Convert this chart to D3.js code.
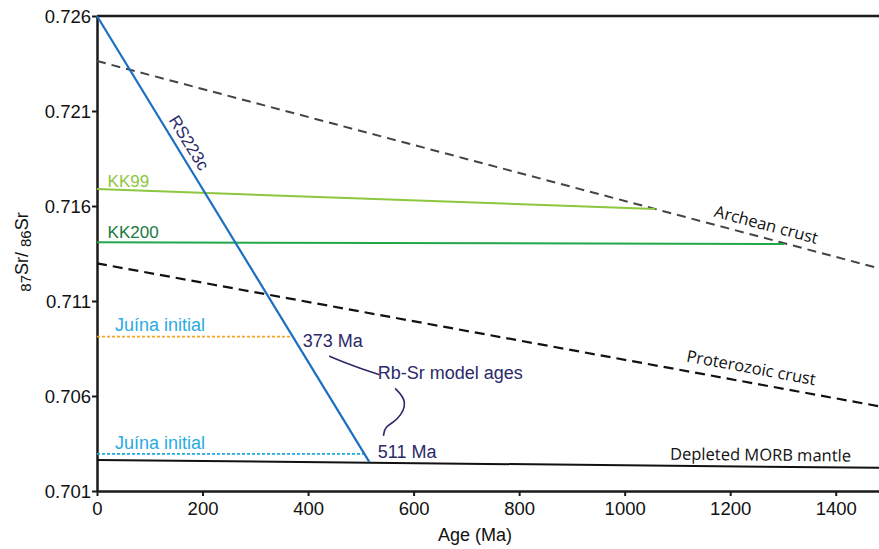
<!DOCTYPE html>
<html>
<head>
<meta charset="utf-8">
<script src="https://cdn.jsdelivr.net/npm/d3@7"></script>
<style>
  body { margin: 0; background: #fff; }
  svg { display: block; }
  .tick text { font-family: "Liberation Sans", Arial, sans-serif; font-size: 18.5px; fill: #111; }
  .lbl { font-family: "Liberation Sans", Arial, sans-serif; }
  .crust { font-family: "Open Sans", sans-serif; fill: #111; }
</style>
</head>
<body>
<div id="chart"></div>
<script>
var svgWidth = 879;
var svgHeight = 549;

var margin = { top: 16, right: 0, bottom: 58, left: 97 };
var width = svgWidth - margin.left - margin.right;
var height = svgHeight - margin.top - margin.bottom;

// data: [age (Ma), 87Sr/86Sr]
var xTicks = [0, 200, 400, 600, 800, 1000, 1200, 1400];
var yTicks = [0.701, 0.706, 0.711, 0.716, 0.721, 0.726];
var rs223c = [[0, 0.726], [516, 0.70253]];
var morb = [[0, 0.70263], [1482, 0.70222]];
var archean = [[0, 0.72363], [1482, 0.71272]];
var proterozoic = [[0, 0.71298], [1482, 0.70546]];
var kk99 = [[0, 0.71689], [1058, 0.71584]];
var kk200 = [[0, 0.71409], [1302, 0.71400]];
var juinaHigh = [[0, 0.70912], [371, 0.70912]];
var juinaLow = [[0, 0.70295], [506, 0.70295]];

var svg = d3.select("#chart")
  .append("svg")
  .attr("width", svgWidth)
  .attr("height", svgHeight);

var chartGroup = svg.append("g")
  .attr("transform", `translate(${margin.left}, ${margin.top})`);

var xLinearScale = d3.scaleLinear().domain([0, 1482]).range([0, width]);
var yLinearScale = d3.scaleLinear().domain([0.701, 0.726]).range([height, 0]);

var line = d3.line()
  .x(d => xLinearScale(d[0]))
  .y(d => yLinearScale(d[1]));

// top frame line
chartGroup.append("line")
  .attr("x1", 0).attr("x2", width)
  .attr("y1", 0).attr("y2", 0)
  .attr("stroke", "#1a1a1a")
  .attr("stroke-width", 2.5);

// axes
var bottomAxis = d3.axisBottom(xLinearScale).tickValues(xTicks).tickFormat(d3.format("d")).tickSize(5).tickSizeOuter(0);
var leftAxis = d3.axisLeft(yLinearScale).tickValues(yTicks).tickFormat(d3.format(".3f")).tickSize(5).tickSizeOuter(0);

var xAxis = chartGroup.append("g")
  .attr("transform", `translate(0, ${height})`)
  .call(bottomAxis);
xAxis.select(".domain").attr("stroke", "#1a1a1a").attr("stroke-width", 2.5);
xAxis.selectAll(".tick line").attr("stroke", "#1a1a1a").attr("stroke-width", 2);
xAxis.selectAll(".tick text").attr("dy", "0.85em");

var yAxis = chartGroup.append("g").call(leftAxis);
yAxis.select(".domain").attr("stroke", "#1a1a1a").attr("stroke-width", 2.5);
yAxis.selectAll(".tick line").attr("stroke", "#1a1a1a").attr("stroke-width", 2);
yAxis.selectAll(".tick text").attr("x", -6).attr("dy", "0.36em");

// series lines
var series = [
  { d: archean, color: "#444", w: 2, dash: "9,6" },
  { d: proterozoic, color: "#111", w: 2.2, dash: "10,6" },
  { d: morb, color: "#111", w: 2, dash: null },
  { d: kk99, color: "#8dc63f", w: 2, dash: null },
  { d: kk200, color: "#22a84a", w: 2, dash: null },
  { d: juinaHigh, color: "#f5a623", w: 1.8, dash: "3,2" },
  { d: juinaLow, color: "#1fa9e1", w: 1.8, dash: "3,2" },
  { d: rs223c, color: "#1a6fc0", w: 2.2, dash: null }
];

chartGroup.selectAll(".series")
  .data(series)
  .enter()
  .append("path")
  .attr("class", "series")
  .attr("d", s => line(s.d))
  .attr("fill", "none")
  .attr("stroke", s => s.color)
  .attr("stroke-width", s => s.w)
  .attr("stroke-dasharray", s => s.dash);

// text labels
function addText(x, y, txt, color, size, rot, cls) {
  var px = xLinearScale(x), py = yLinearScale(y);
  return chartGroup.append("text")
    .attr("class", cls || "lbl")
    .attr("x", px).attr("y", py)
    .attr("transform", rot ? `rotate(${rot}, ${px}, ${py})` : null)
    .attr("fill", color)
    .style("font-size", size + "px")
    .text(txt);
}

addText(20, 0.7170, "KK99", "#8dc63f", 17);
addText(20, 0.7143, "KK200", "#177a3e", 17);
addText(34, 0.70940, "Juína initial", "#29abe2", 18);
addText(34, 0.70322, "Juína initial", "#29abe2", 18);
addText(390, 0.70860, "373 Ma", "#2b2a6a", 18);
addText(532, 0.70690, "Rb-Sr model ages", "#2b2a6a", 18);
addText(532, 0.70275, "511 Ma", "#2b2a6a", 18);
addText(135, 0.72052, "RS223c", "#2b2a6a", 17, 58.5);
addText(1168, 0.71545, "Archean crust", "#111", 16.5, 15, "crust");
addText(1116, 0.70782, "Proterozoic crust", "#111", 16.5, 10.5, "crust");
addText(1086, 0.70265, "Depleted MORB mantle", "#111", 16.5, 0.6, "crust");

// curved leaders for model ages
var leaders = [
  [[440, 0.70810], [470, 0.70775], [505, 0.70740], [535, 0.70712]],
  [[565, 0.70640], [590, 0.70570], [570, 0.70470], [545, 0.70440], [543, 0.70390]]
];
chartGroup.selectAll(".leader")
  .data(leaders)
  .enter()
  .append("path")
  .attr("class", "leader")
  .attr("d", d3.line().x(d => xLinearScale(d[0])).y(d => yLinearScale(d[1])).curve(d3.curveBasis))
  .attr("fill", "none")
  .attr("stroke", "#2b2a6a")
  .attr("stroke-width", 1.6);

// axis titles
svg.append("text")
  .attr("class", "lbl")
  .attr("x", 475).attr("y", 541)
  .attr("text-anchor", "middle")
  .style("font-size", "18px")
  .attr("fill", "#111")
  .text("Age (Ma)");

var yTitle = svg.append("text")
  .attr("class", "lbl")
  .attr("transform", "translate(28, 252) rotate(-90)")
  .attr("text-anchor", "middle")
  .style("font-size", "18px")
  .attr("fill", "#111");
yTitle.append("tspan").style("font-size", "15px").attr("dy", 3).text("87");
yTitle.append("tspan").attr("dy", -3).text("Sr/ ");
yTitle.append("tspan").style("font-size", "15px").attr("dy", 3).text("86");
yTitle.append("tspan").attr("dy", -3).text("Sr");
</script>
</body>
</html>
